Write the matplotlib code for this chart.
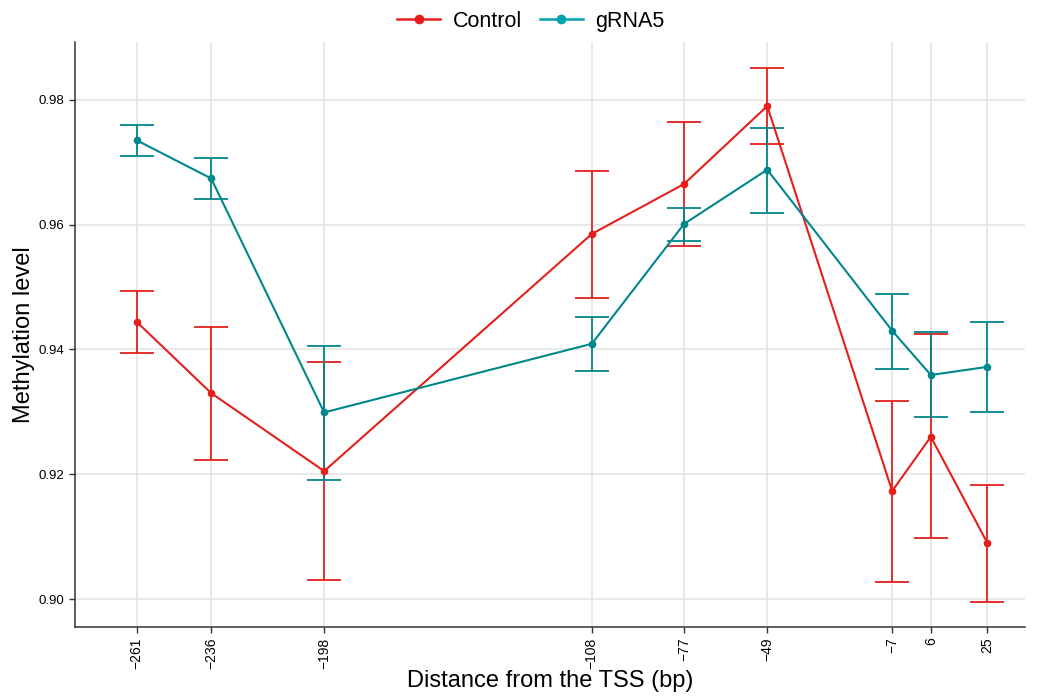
import matplotlib
matplotlib.use('Agg')
import matplotlib.pyplot as plt
from matplotlib.lines import Line2D

plt.rcParams['font.family'] = ['Liberation Sans', 'DejaVu Sans']

# --------------------------------------------------
# Data
# --------------------------------------------------
positions = [-261, -236, -198, -108, -77, -49, -7, 6, 25]
tick_labels = ['−261', '−236', '−198', '−108', '−77', '−49', '−7', '6', '25']

control_mean = [0.9444, 0.9330, 0.9205, 0.9585, 0.9665, 0.9790, 0.9173, 0.9260, 0.9090]
control_low = [0.9394, 0.9223, 0.9030, 0.9483, 0.9566, 0.9729, 0.9028, 0.9098, 0.8996]
control_high = [0.9494, 0.9436, 0.9380, 0.9686, 0.9765, 0.9851, 0.9317, 0.9425, 0.9182]

grna_mean = [0.9735, 0.9674, 0.9299, 0.9409, 0.9601, 0.9688, 0.9430, 0.9359, 0.9372]
grna_low = [0.9710, 0.9641, 0.9191, 0.9366, 0.9574, 0.9619, 0.9369, 0.9292, 0.9300]
grna_high = [0.9760, 0.9707, 0.9405, 0.9452, 0.9627, 0.9755, 0.9489, 0.9428, 0.9444]

RED = '#E41F1C'
TEAL = '#00878C'
TEAL_LIGHT = '#00A3AB'
GRID = '#E3E3E3'

fig = plt.figure(figsize=(10.41, 6.96), dpi=100)
ax = fig.add_axes([0.072, 0.099, 0.913, 0.841])


def draw_series(mean, low, high, color, point_color):
    yerr = [[m - l for m, l in zip(mean, low)], [h - m for m, h in zip(mean, high)]]
    ax.errorbar(positions, mean, yerr=yerr, fmt='none', ecolor=color,
                elinewidth=1.3, capsize=12, capthick=1.3, zorder=3)
    ax.plot(positions, mean, color=color, lw=1.5, zorder=4)
    ax.plot(positions, mean, 'o', color=point_color, ms=4.5, zorder=5)


draw_series(control_mean, control_low, control_high, RED, RED)
draw_series(grna_mean, grna_low, grna_high, TEAL, TEAL)

ax.set_xlim(-281.8, 37.8)
ax.set_ylim(0.8955, 0.9893)
ax.set_xticks(positions)
ax.set_xticklabels(tick_labels, rotation=90, fontsize=10)
ax.set_yticks([0.90, 0.92, 0.94, 0.96, 0.98])
ax.set_yticklabels(['0.90', '0.92', '0.94', '0.96', '0.98'], fontsize=9.5)
ax.grid(True, color=GRID, lw=1.1)
ax.set_axisbelow(True)
for side in ['top', 'right']:
    ax.spines[side].set_visible(False)
for side in ['left', 'bottom']:
    ax.spines[side].set_color('#333333')
    ax.spines[side].set_linewidth(1.1)
ax.tick_params(colors='#333333', length=4, width=1, labelcolor='black')

ax.set_xlabel('Distance from the TSS (bp)', fontsize=17, labelpad=1)
ax.set_ylabel('Methylation level', fontsize=17, labelpad=3)

handles = [Line2D([], [], color=RED, marker='o', ms=6, lw=1.8),
           Line2D([], [], color=TEAL_LIGHT, marker='o', ms=6, lw=1.8)]
fig.legend(handles, ['Control', 'gRNA5'], loc='upper center', ncol=2,
           bbox_to_anchor=(0.51, 1.012), frameon=False, fontsize=15.5,
           handlelength=2.0, columnspacing=0.8, handletextpad=0.6)

fig.savefig('out.png', dpi=100, facecolor='white')
